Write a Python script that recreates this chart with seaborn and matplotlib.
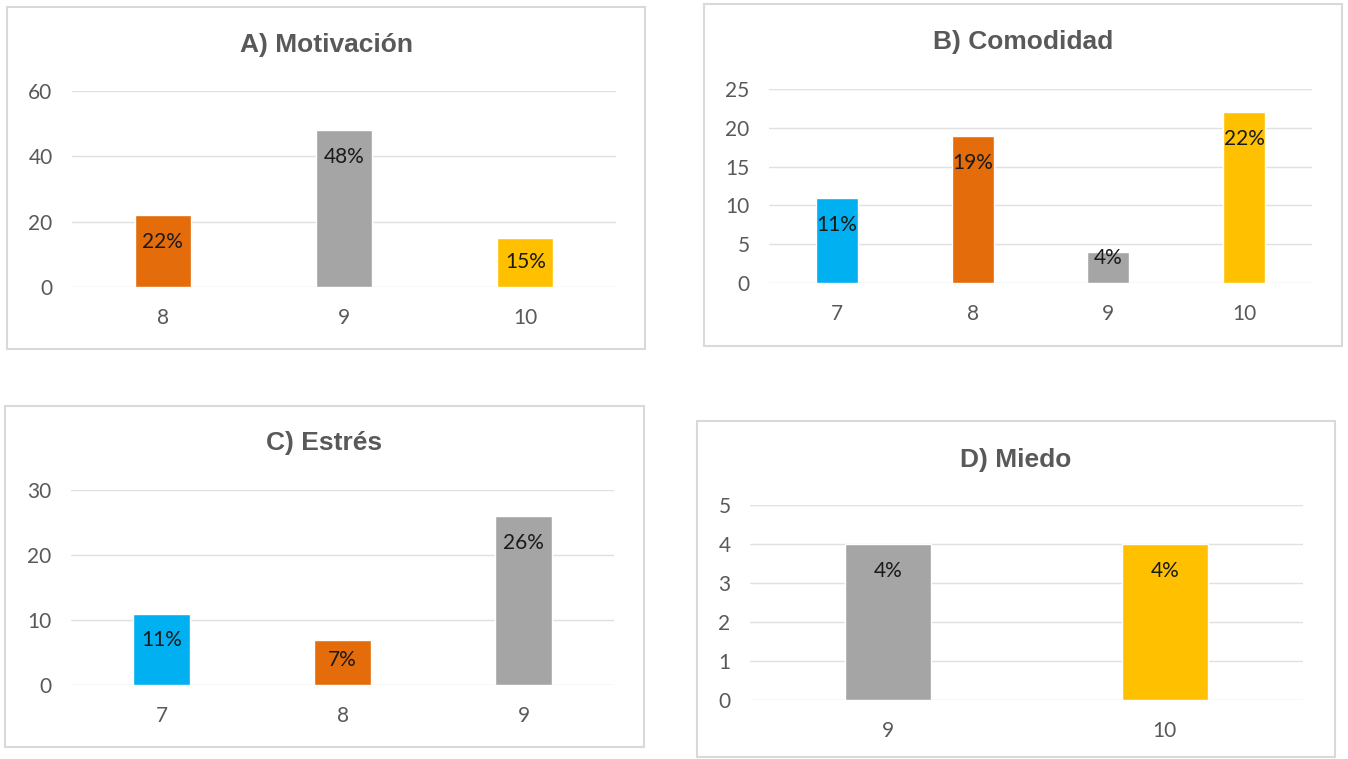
import numpy as np
import pandas as pd
import matplotlib.pyplot as plt
import seaborn as sns
from matplotlib.patches import Rectangle

# data
titles = ['A) Motivación', 'B) Comodidad', 'C) Estrés', 'D) Miedo']
cats_a = ['8', '9', '10']
vals_a = [22, 48, 15]
cats_b = ['7', '8', '9', '10']
vals_b = [11, 19, 4, 22]
cats_c = ['7', '8', '9']
vals_c = [11, 7, 26]
cats_d = ['9', '10']
vals_d = [4, 4]
ymax = [60, 25, 30, 5]
ystep = [20, 5, 10, 1]

colors = {'7': '#00B0F0', '8': '#E46C0A', '9': '#A5A5A5', '10': '#FFC000'}

sns.set_style('white')
plt.rcParams['font.family'] = ['Lato', 'DejaVu Sans']

W, H = 1348, 759
fig = plt.figure(figsize=(W / 100, H / 100), dpi=100)

# pixel boxes: panel frame (l, t, r, b) and axes (l, t, r, b)
frames = [(7, 7, 645, 349), (704, 4, 1342, 346), (5, 406, 644, 747), (697, 421, 1335, 757)]
axboxes = [(72, 91, 616, 287), (769, 89, 1312, 283), (71, 490, 614, 685), (750, 505, 1303, 700)]
title_y = [45, 42, 443, 460]

panels = [(cats_a, vals_a), (cats_b, vals_b), (cats_c, vals_c), (cats_d, vals_d)]

for i, (cats, vals) in enumerate(panels):
    fl, ft, fr, fb = frames[i]
    fig.patches.append(Rectangle((fl / W, 1 - fb / H), (fr - fl) / W, (fb - ft) / H,
                                 transform=fig.transFigure, fill=False,
                                 edgecolor='#d9d9d9', lw=1.5, zorder=0))
    l, t, r, b = axboxes[i]
    ax = fig.add_axes([l / W, 1 - b / H, (r - l) / W, (b - t) / H])
    df = pd.DataFrame({'cat': cats, 'val': vals})
    sns.barplot(data=df, x='cat', y='val', hue='cat', palette=colors,
                order=cats, hue_order=cats, legend=False, width=0.31,
                saturation=1, ax=ax, zorder=3)
    ax.set_ylim(0, ymax[i])
    ax.set_yticks(np.arange(0, ymax[i] + 0.1, ystep[i]))
    ax.yaxis.grid(True, color='#e0e0e0', lw=1, zorder=0)
    ax.set_axisbelow(True)
    for s in ax.spines.values():
        s.set_visible(False)
    ax.set_xlabel('')
    ax.set_ylabel('')
    ax.tick_params(axis='y', colors='#595959', labelsize=15, pad=14, length=0)
    ax.tick_params(axis='x', colors='#595959', labelsize=15, pad=15, length=0)
    # labels inside bar end
    ppu = (b - t) / ymax[i]
    for j, v in enumerate(vals):
        y = max(v - 27 / ppu, 25 / ppu)
        ax.text(j, y, f'{v}%', ha='center', va='center', fontsize=15,
                color='#1a1a1a', zorder=5)
    cx = (fl + fr) / 2 / W
    fig.text(cx, 1 - title_y[i] / H, titles[i], ha='center', va='center',
             fontsize=19, fontweight='bold', color='#595959',
             family=['Liberation Sans', 'DejaVu Sans'])

fig.savefig('out.png', dpi=100)
